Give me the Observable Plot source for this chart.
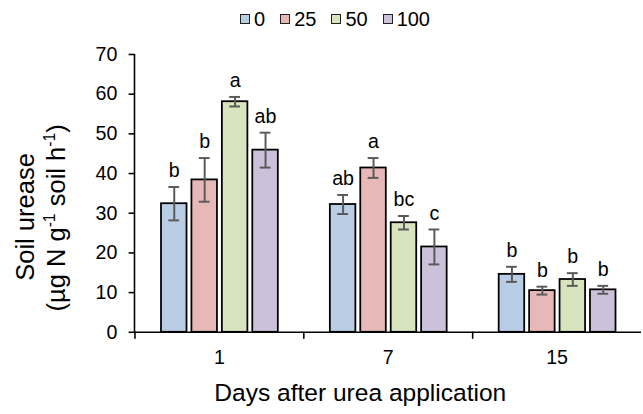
<!DOCTYPE html>
<html>
<head>
<meta charset="utf-8">
<script src="https://cdn.jsdelivr.net/npm/d3@7"></script>
<script src="https://cdn.jsdelivr.net/npm/@observablehq/plot@0.6"></script>
<style>
  html, body { margin: 0; padding: 0; background: #fff; }
  #wrap { position: relative; width: 643px; height: 414px; overflow: hidden; font-family: "Liberation Sans", Arial, sans-serif; }
  #legend { position: absolute; top: 8px; left: 240px; display: flex; align-items: center; font-size: 20px; line-height: 22px; color: #000; z-index: 2; }
  .item { display: flex; align-items: center; margin-right: 15px; }
  .sw { width: 8px; height: 8px; border: 1.6px solid #222; margin-right: 4px; }
</style>
</head>
<body>
<div id="wrap"><div id="legend"></div></div>
<script>
const days = ["1", "7", "15"];
const treatments = ["0", "25", "50", "100"];
const colors = ["#b9cde5", "#e6b9b8", "#d7e4bd", "#ccc1da"];
const yTicks = [0, 10, 20, 30, 40, 50, 60, 70];

const meanDay1 = [32.4, 38.4, 58.1, 45.9];
const meanDay7 = [32.2, 41.4, 27.6, 21.5];
const meanDay15 = [14.6, 10.5, 13.3, 10.7];

const seDay1 = [4.2, 5.5, 1.2, 4.4];
const seDay7 = [2.4, 2.5, 1.7, 4.4];
const seDay15 = [1.9, 1.0, 1.6, 1.0];

const letDay1 = ["b", "b", "a", "ab"];
const letDay7 = ["ab", "a", "bc", "c"];
const letDay15 = ["b", "b", "b", "b"];

const means = [meanDay1, meanDay7, meanDay15];
const ses = [seDay1, seDay7, seDay15];
const lets = [letDay1, letDay7, letDay15];

const data = [];
days.forEach((d, i) => treatments.forEach((t, j) => data.push({
  day: d, treatment: t, value: means[i][j], se: ses[i][j], letter: lets[i][j]
})));

const tickShape = { draw(context, l) { context.moveTo(0, 0); context.lineTo(0, -l); } };

const plot = Plot.plot({
  width: 655,
  height: 414,
  marginLeft: 136,
  marginRight: 1.5,
  marginTop: 55,
  marginBottom: 76,
  style: { fontFamily: "Liberation Sans, Arial, sans-serif", color: "#000", background: "transparent" },
  fx: { domain: days, padding: 0, axis: null },
  x: { domain: treatments, paddingInner: 0.17, paddingOuter: 0.84, axis: null },
  y: { domain: [0, 70], axis: null },
  color: { domain: treatments, range: colors },
  marks: [
    Plot.barY(data, { fx: "day", x: "treatment", y: "value", fill: "treatment", stroke: "black", strokeWidth: 1.8 }),
    Plot.ruleX(data, { fx: "day", x: "treatment", y1: d => d.value - d.se, y2: d => d.value + d.se, stroke: "#595959", strokeWidth: 2 }),
    Plot.tickY(data, { fx: "day", x: "treatment", y: d => d.value + d.se, stroke: "#595959", strokeWidth: 2, insetLeft: 7.5, insetRight: 7.5 }),
    Plot.tickY(data, { fx: "day", x: "treatment", y: d => d.value - d.se, stroke: "#595959", strokeWidth: 2, insetLeft: 7.5, insetRight: 7.5 }),
    Plot.text(data, { fx: "day", x: "treatment", y: d => d.value + d.se, text: "letter", lineAnchor: "bottom", dy: -10, fontSize: 20, fill: "#000" }),
    Plot.ruleY([0], { stroke: "black", strokeWidth: 1.6 }),
    Plot.vector(days, { fx: d => d, frameAnchor: "bottom-left", length: 6, rotate: 180, anchor: "start", shape: tickShape, stroke: "black", strokeWidth: 1.6 }),
    Plot.axisY({ ticks: yTicks, tickSize: 6, tickPadding: 12, fontSize: 20, label: null, strokeWidth: 1.6 }),
    Plot.axisFx({ anchor: "bottom", tickSize: 0, tickPadding: 18, fontSize: 20, label: null })
  ]
});

const svg = d3.select(plot);

// y-axis line from the library's own scales
const ys = plot.scale("y");
const fxs = plot.scale("fx");
const xLeft = fxs.apply(days[0]);
svg.append("line")
  .attr("x1", xLeft).attr("x2", xLeft)
  .attr("y1", ys.apply(yTicks[0]) + 0.8).attr("y2", ys.apply(yTicks[yTicks.length - 1]))
  .attr("stroke", "black").attr("stroke-width", 1.6);

svg.append("text")
  .attr("x", 367).attr("y", 409)
  .attr("text-anchor", "middle")
  .attr("font-size", 25).attr("fill", "#000")
  .text("Days after urea application");

const yt = svg.append("g").attr("font-size", 26).attr("fill", "#000").attr("text-anchor", "middle");
yt.append("text").attr("transform", "translate(35,221) rotate(-90)").text("Soil urease");
const l2 = yt.append("text").attr("transform", "translate(66,222) rotate(-90)");
l2.append("tspan").text("(µg N g");
l2.append("tspan").attr("font-size", 16).attr("dy", -10).text("-1");
l2.append("tspan").attr("dy", 10).text(" soil h");
l2.append("tspan").attr("font-size", 16).attr("dy", -10).text("-1");
l2.append("tspan").attr("dy", 10).text(")");

document.getElementById("wrap").appendChild(plot);

const legend = d3.select("#legend");
treatments.forEach((t, i) => {
  const it = legend.append("div").attr("class", "item");
  it.append("div").attr("class", "sw").style("background", colors[i]);
  it.append("span").text(t);
});
</script>
</body>
</html>
